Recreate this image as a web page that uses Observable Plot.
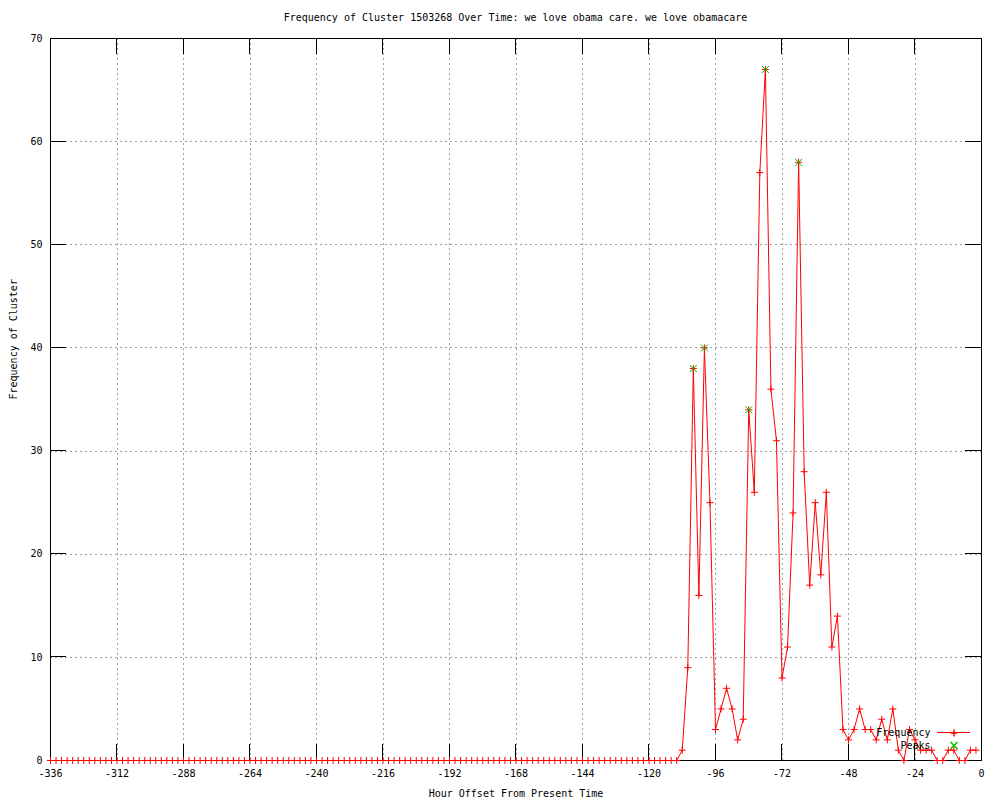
<!DOCTYPE html>
<html>
<head>
<meta charset="utf-8">
<script src="https://cdn.jsdelivr.net/npm/d3@7"></script>
<script src="https://cdn.jsdelivr.net/npm/@observablehq/plot@0.6"></script>
<style>
  body { margin: 0; background: #fff; }
  #title {
    box-sizing: border-box; width: 1000px; height: 30px;
    padding: 12px 19px 0 50px;
    font: 10px/12px "DejaVu Sans Mono", monospace;
    text-align: center; color: #000; white-space: pre;
  }
  #chart svg { display: block; }
</style>
</head>
<body>
<div id="title">Frequency of Cluster 1503268 Over Time: we love obama care. we love obamacare</div>
<div id="chart"></div>
<script>
// ---- data ----
const hours = [
  -336,-334,-332,-330,-328,-326,-324,-322,-320,-318,-316,-314,
  -312,-310,-308,-306,-304,-302,-300,-298,-296,-294,-292,-290,
  -288,-286,-284,-282,-280,-278,-276,-274,-272,-270,-268,-266,
  -264,-262,-260,-258,-256,-254,-252,-250,-248,-246,-244,-242,
  -240,-238,-236,-234,-232,-230,-228,-226,-224,-222,-220,-218,
  -216,-214,-212,-210,-208,-206,-204,-202,-200,-198,-196,-194,
  -192,-190,-188,-186,-184,-182,-180,-178,-176,-174,-172,-170,
  -168,-166,-164,-162,-160,-158,-156,-154,-152,-150,-148,-146,
  -144,-142,-140,-138,-136,-134,-132,-130,-128,-126,-124,-122,
  -120,-118,-116,-114,-112,-110,-108,-106,-104,-102,-100,-98,
  -96,-94,-92,-90,-88,-86,-84,-82,-80,-78,-76,-74,
  -72,-70,-68,-66,-64,-62,-60,-58,-56,-54,-52,-50,
  -48,-46,-44,-42,-40,-38,-36,-34,-32,-30,-28,-26,
  -24,-22,-20,-18,-16,-14,-12,-10,-8,-6,-4,-2
];
const counts = [
  0,0,0,0,0,0,0,0,0,0,0,0,
  0,0,0,0,0,0,0,0,0,0,0,0,
  0,0,0,0,0,0,0,0,0,0,0,0,
  0,0,0,0,0,0,0,0,0,0,0,0,
  0,0,0,0,0,0,0,0,0,0,0,0,
  0,0,0,0,0,0,0,0,0,0,0,0,
  0,0,0,0,0,0,0,0,0,0,0,0,
  0,0,0,0,0,0,0,0,0,0,0,0,
  0,0,0,0,0,0,0,0,0,0,0,0,
  0,0,0,0,0,0,1,9,38,16,40,25,
  3,5,7,5,2,4,34,26,57,67,36,31,
  8,11,24,58,28,17,25,18,26,11,14,3,
  2,3,5,3,3,2,4,2,5,1,0,3,
  2,1,1,1,0,0,1,1,0,0,1,1
];
const peakHours = [-104, -100, -84, -78, -66];
const peakCounts = [38, 40, 34, 67, 58];
const xTicks = [-336,-312,-288,-264,-240,-216,-192,-168,-144,-120,-96,-72,-48,-24,0];
const yTicks = [0,10,20,30,40,50,60,70];
const xLabel = "Hour Offset From Present Time";
const yLabel = "Frequency of Cluster";
const legendLabels = ["Frequency", "Peaks"];

const freq = hours.map((h, i) => ({hour: h, count: counts[i]}));
const peaks = peakHours.map((h, i) => ({hour: h, count: peakCounts[i]}));

// ---- layout ----
const W = 1000, H = 770, mL = 50, mR = 19, mT = 8, mB = 40;
const tick = 16;
const RED = "#ff0000", GREEN = "#00c000", GRID = "#a0a0a0";

const plot = Plot.plot({
  width: W, height: H,
  marginLeft: mL, marginRight: mR, marginTop: mT, marginBottom: mB,
  style: {fontFamily: '"DejaVu Sans Mono", monospace', fontSize: "10px", background: "#fff", color: "#000"},
  x: {domain: [-336, 0]},
  y: {domain: [0, 70]},
  marks: [
    Plot.gridX(xTicks, {stroke: GRID, strokeOpacity: 1, strokeDasharray: "2,3", shapeRendering: "crispEdges"}),
    Plot.gridY(yTicks, {stroke: GRID, strokeOpacity: 1, strokeDasharray: "2,3", shapeRendering: "crispEdges"}),
    Plot.frame({stroke: "#000", shapeRendering: "crispEdges"}),
    Plot.axisX({ticks: xTicks, tickSize: 0, tickPadding: 9, tickFormat: d => String(d), label: null}),
    Plot.axisY({ticks: yTicks, tickSize: 0, tickPadding: 8, tickFormat: d => String(d), label: null}),
    Plot.text([xLabel], {frameAnchor: "bottom", dy: 33, lineAnchor: "middle", text: d => d}),
    Plot.text([yLabel], {frameAnchor: "left", dx: -37, rotate: -90, lineAnchor: "middle", text: d => d}),
    Plot.line(freq, {x: "hour", y: "count", stroke: RED, strokeWidth: 1}),
    Plot.dot(freq, {x: "hour", y: "count", symbol: "plus", r: 2.4, stroke: RED, strokeWidth: 1}),
    Plot.dot(peaks, {x: "hour", y: "count", symbol: "times", r: 3.3, stroke: GREEN, strokeWidth: 1}),
    // legend
    Plot.text([legendLabels[0]], {frameAnchor: "bottom-right", dx: -51, dy: -27.5, textAnchor: "end", lineAnchor: "middle", text: d => d}),
    Plot.text([legendLabels[1]], {frameAnchor: "bottom-right", dx: -51, dy: -15, textAnchor: "end", lineAnchor: "middle", text: d => d}),
    Plot.dot([0], {frameAnchor: "bottom-right", dx: -27.5, dy: -27.5, symbol: "plus", r: 2.4, stroke: RED}),
    Plot.dot([0], {frameAnchor: "bottom-right", dx: -27.5, dy: -15, symbol: "times", r: 3.3, stroke: GREEN})
  ]
});

// inward tick marks on all four sides, placed through the plot's own scales,
// inserted beneath the data line so the data draws on top
const sx = plot.scale("x"), sy = plot.scale("y");
const svg = d3.select(plot);
const before = plot.querySelector("[aria-label='line']");
const g = d3.select(plot.insertBefore(document.createElementNS("http://www.w3.org/2000/svg", "g"), before))
  .attr("stroke", "#000").attr("stroke-width", 1).attr("shape-rendering", "crispEdges");
for (const t of xTicks) {
  const px = sx.apply(t);
  g.append("line").attr("x1", px).attr("x2", px).attr("y1", H - mB).attr("y2", H - mB - tick);
  g.append("line").attr("x1", px).attr("x2", px).attr("y1", mT).attr("y2", mT + tick);
}
for (const t of yTicks) {
  const py = sy.apply(t);
  g.append("line").attr("y1", py).attr("y2", py).attr("x1", mL).attr("x2", mL + tick);
  g.append("line").attr("y1", py).attr("y2", py).attr("x1", W - mR).attr("x2", W - mR - tick);
}

// legend line sample
svg.append("line")
  .attr("x1", W - mR - 44).attr("x2", W - mR - 11)
  .attr("y1", H - mB - 27.5).attr("y2", H - mB - 27.5)
  .attr("stroke", RED).attr("stroke-width", 1)
  .attr("shape-rendering", "crispEdges");

document.getElementById("chart").appendChild(plot);
</script>
</body>
</html>
